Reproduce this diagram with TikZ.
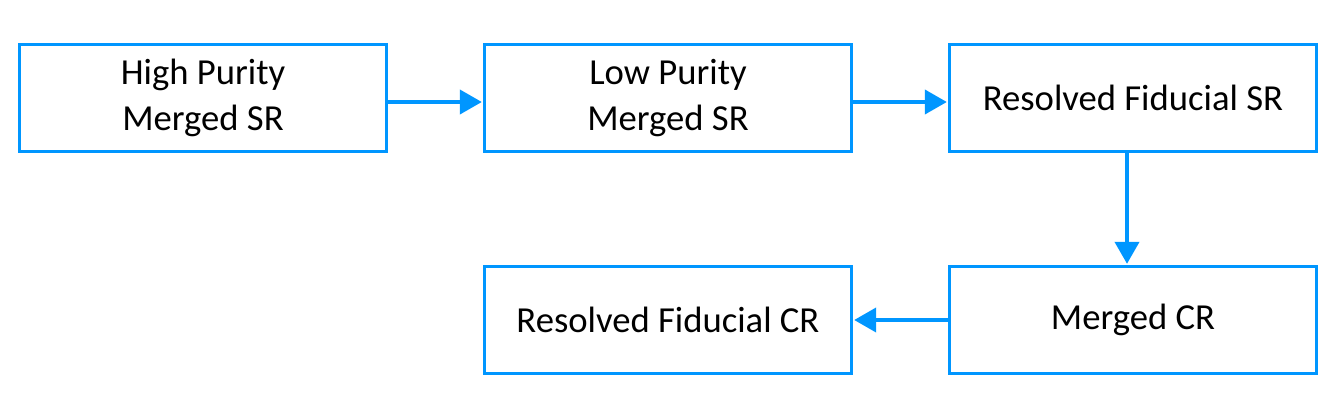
\documentclass[tikz,border=0pt]{standalone}
\usepackage{fontspec}
\setmainfont{Carlito}
\usetikzlibrary{arrows.meta}
\definecolor{flowblue}{RGB}{0,150,255}
\begin{document}
\begin{tikzpicture}[x=0.75pt,y=-0.75pt,
  box/.style={draw=flowblue,line width=2.25pt,minimum width=275pt,minimum height=80pt,
    align=center,inner sep=0pt,font=\fontsize{27.5}{35}\selectfont},
  arr/.style={draw=flowblue,line width=3pt,-{Triangle[length=16.5pt,width=18pt]},shorten >=1pt}]
\useasboundingbox (0,0) rectangle (1342,414);
\node[box] (b1) at (203,98) {High Purity\\Merged SR};
\node[box] (b2) at (668,98) {Low Purity\\Merged SR};
\node[box] (b3) at (1133,98) {Resolved Fiducial SR};
\node[box] (b4) at (1133,320) {Merged CR};
\node[box] (b5) at (668,320) {Resolved Fiducial CR};
\draw[arr] ([yshift=-3pt]b1.east) -- ([yshift=-3pt]b2.west);
\draw[arr] ([yshift=-3pt]b2.east) -- ([yshift=-3pt]b3.west);
\draw[arr] ([xshift=-4.5pt]b3.south) -- ([xshift=-4.5pt]b4.north);
\draw[arr] (b4.west) -- (b5.east);
\end{tikzpicture}
\end{document}
